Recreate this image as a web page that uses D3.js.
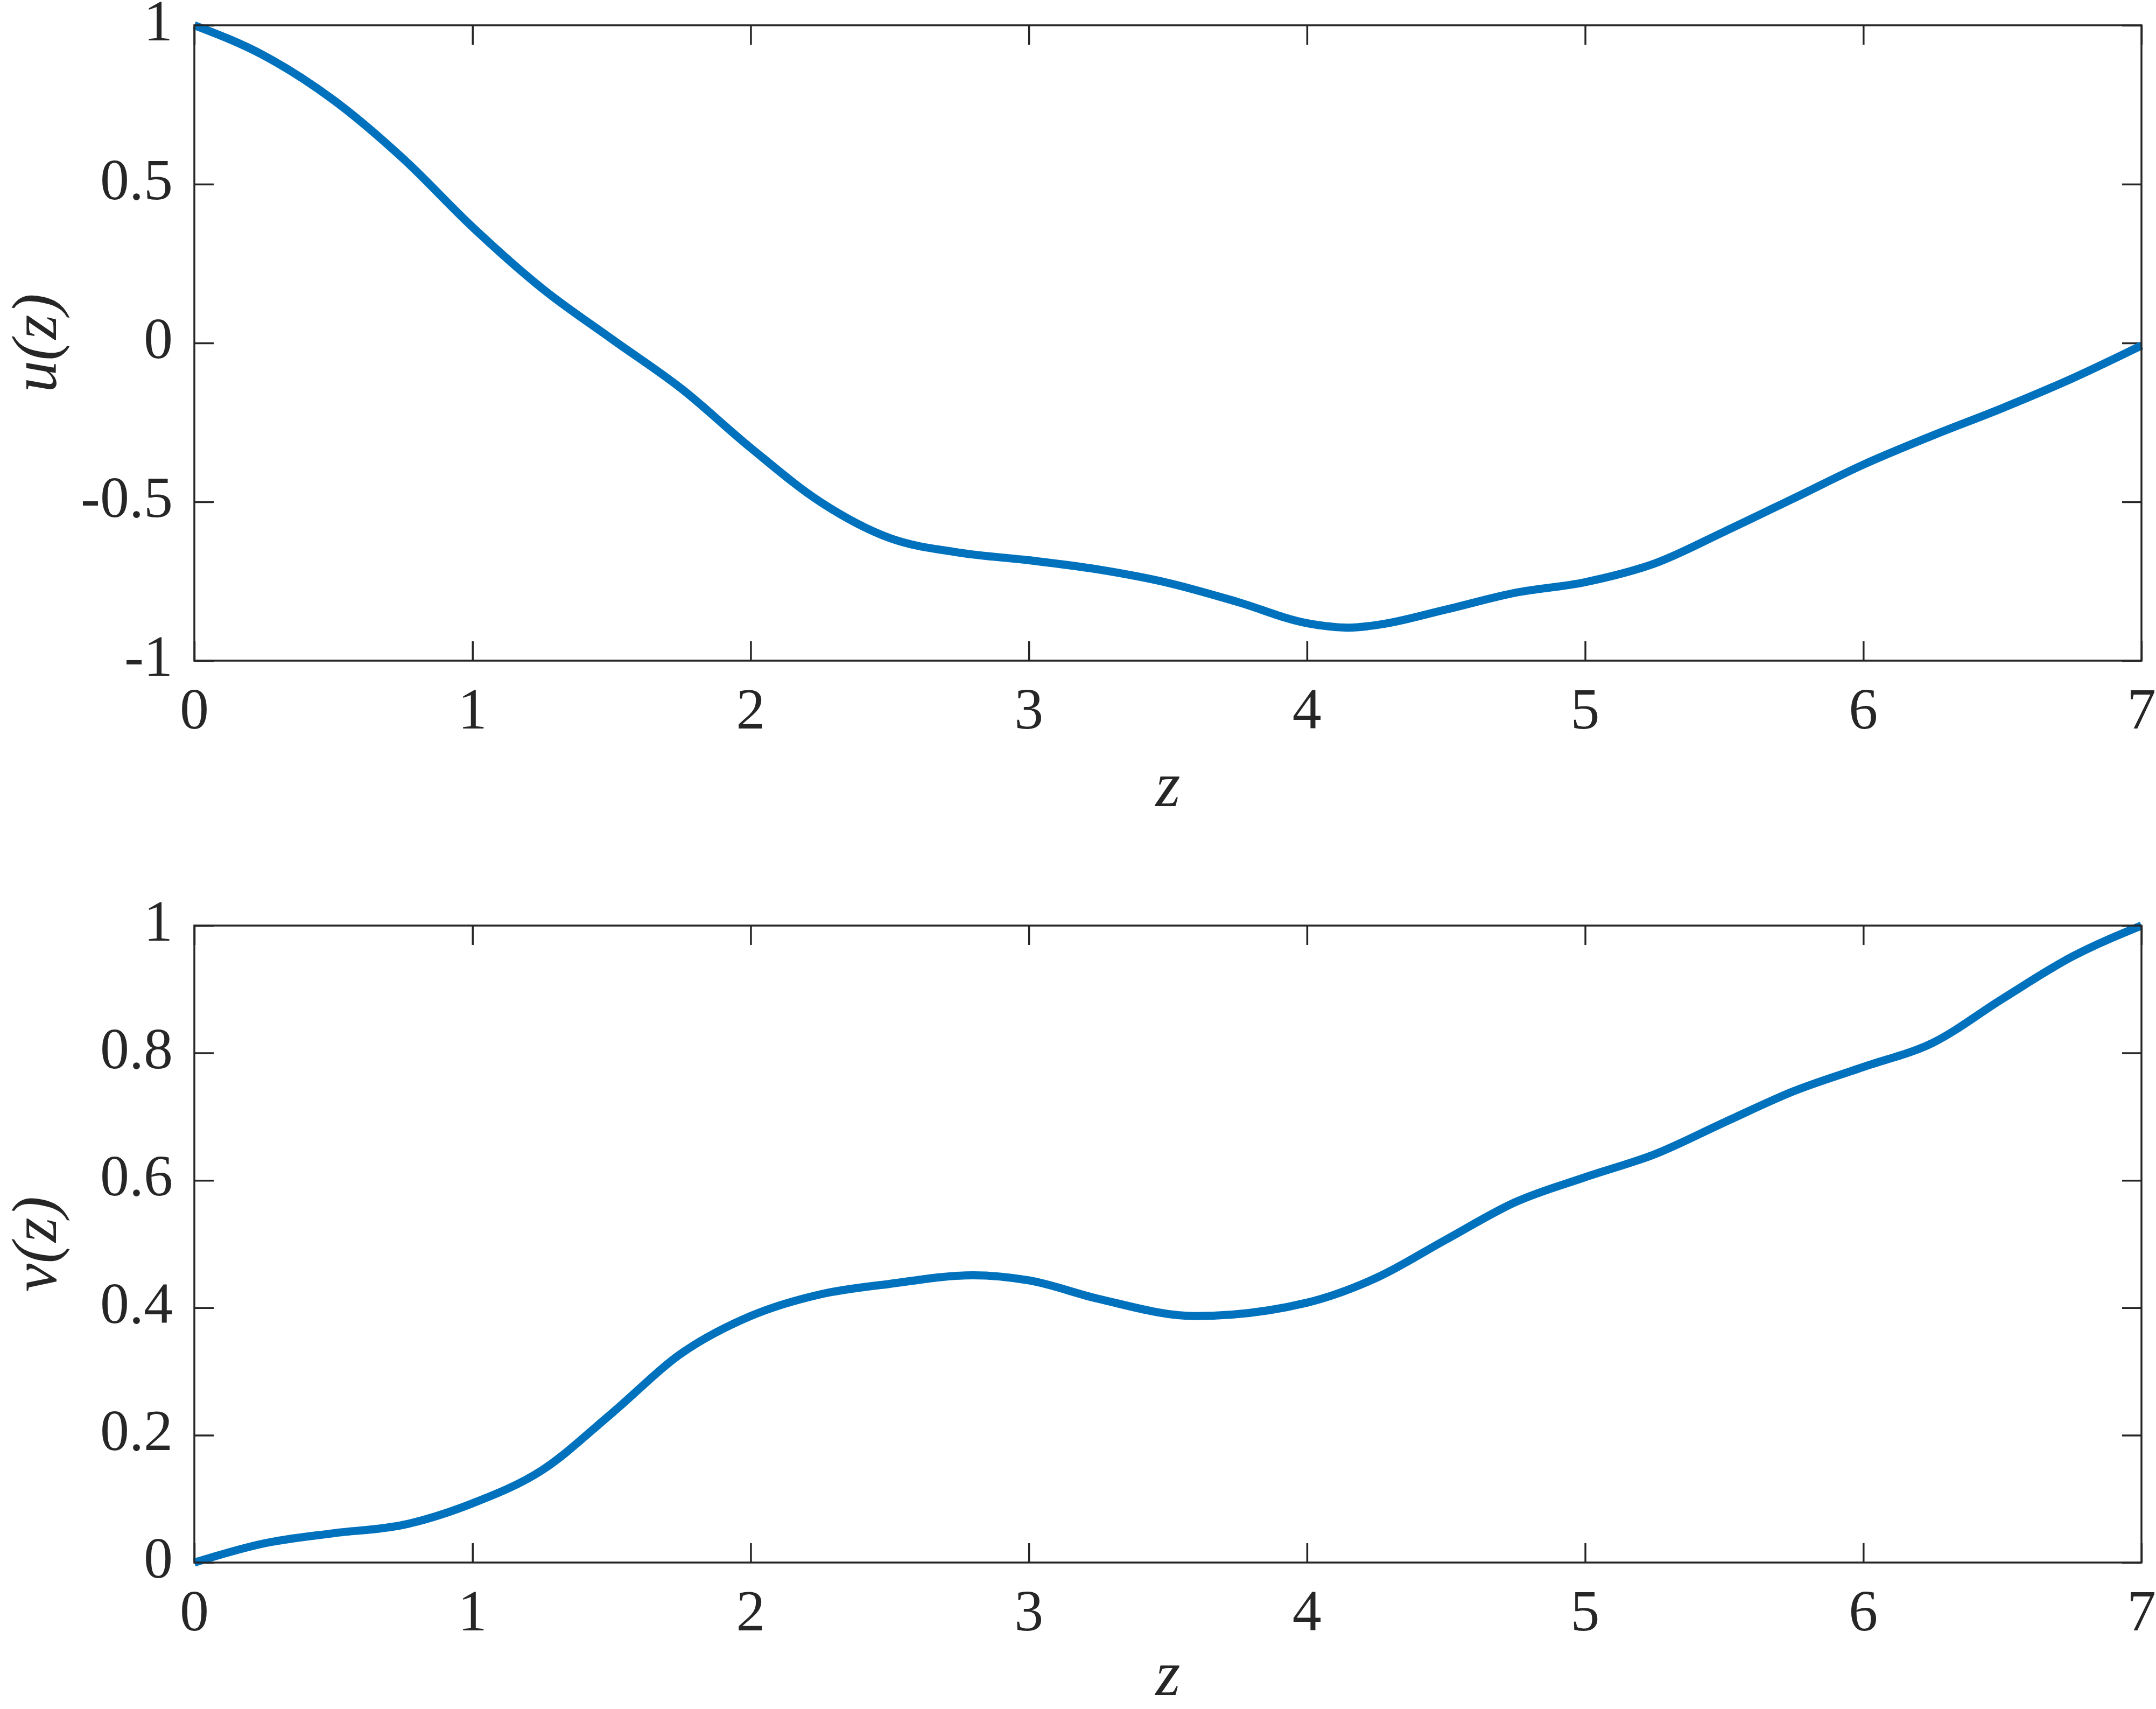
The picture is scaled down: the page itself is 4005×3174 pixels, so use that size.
<!DOCTYPE html>
<html>
<head>
<meta charset="utf-8">
<script src="https://cdn.jsdelivr.net/npm/d3@7"></script>
<style>
  html, body { margin: 0; padding: 0; background: #fff; }
  svg { display: block; }
  .tick-label { font-family: "Liberation Serif", "DejaVu Serif", serif; font-size: 108px; fill: #262626; }
  .axis-title { font-family: "Liberation Serif", "DejaVu Serif", serif; font-style: italic; font-size: 118px; fill: #262626; }
</style>
</head>
<body>
<svg id="chart" width="4005" height="3174"></svg>
<script>
// z samples and values
const zU = [0, 0.25, 0.5, 0.75, 1, 1.25, 1.5, 1.75, 2, 2.25, 2.5, 2.75, 3, 3.25, 3.5, 3.75, 4, 4.15, 4.25, 4.5, 4.75, 5, 5.25, 5.5, 5.75, 6, 6.25, 6.5, 6.75, 7];
const uVals = [1.0, 0.905, 0.765, 0.581, 0.365, 0.172, 0.013, -0.143, -0.33, -0.50, -0.614, -0.66, -0.684, -0.713, -0.755, -0.815, -0.882, -0.896, -0.888, -0.839, -0.786, -0.753, -0.694, -0.594, -0.489, -0.383, -0.291, -0.205, -0.112, -0.008];

const zV = [0, 0.25, 0.5, 0.75, 1, 1.25, 1.5, 1.75, 2, 2.25, 2.5, 2.8, 3, 3.25, 3.6, 4, 4.25, 4.5, 4.75, 5, 5.25, 5.5, 5.75, 6, 6.25, 6.5, 6.75, 7];
const vVals = [0, 0.030, 0.046, 0.059, 0.093, 0.145, 0.234, 0.328, 0.387, 0.421, 0.4375, 0.451, 0.443, 0.414, 0.387, 0.408, 0.447, 0.507, 0.566, 0.605, 0.641, 0.691, 0.740, 0.778, 0.816, 0.885, 0.951, 1.0];

const xTicks = [0, 1, 2, 3, 4, 5, 6, 7];
const uTicks = [-1, -0.5, 0, 0.5, 1];
const uTickLabels = ['-1', '-0.5', '0', '0.5', '1'];
const vTicks = [0, 0.2, 0.4, 0.6, 0.8, 1];
const vTickLabels = ['0', '0.2', '0.4', '0.6', '0.8', '1'];

const svg = d3.select('#chart');
svg.append('rect').attr('width', 4005).attr('height', 3174).attr('fill', '#fff');

const left = 361, right = 3978;
const axisColor = '#262626';
const tickLen = 36;

function drawPanel(top, bottom, zs, vals, yDomain, yTicks, yLabels, yTitle, xTitleY) {
    const x = d3.scaleLinear().domain([0, 7]).range([left, right]);
    const y = d3.scaleLinear().domain(yDomain).range([bottom, top]);
    const g = svg.append('g');

    // ticks inside the box on all four sides
    g.append('g').attr('transform', `translate(0,${bottom})`)
        .call(d3.axisBottom(x).tickValues(xTicks).tickSizeInner(-tickLen).tickSizeOuter(0).tickFormat(''))
        .call(a => a.select('.domain').remove());
    g.append('g').attr('transform', `translate(0,${top})`)
        .call(d3.axisTop(x).tickValues(xTicks).tickSizeInner(-tickLen).tickSizeOuter(0).tickFormat(''))
        .call(a => a.select('.domain').remove());
    g.append('g').attr('transform', `translate(${left},0)`)
        .call(d3.axisLeft(y).tickValues(yTicks).tickSizeInner(-tickLen).tickSizeOuter(0).tickFormat(''))
        .call(a => a.select('.domain').remove());
    g.append('g').attr('transform', `translate(${right},0)`)
        .call(d3.axisRight(y).tickValues(yTicks).tickSizeInner(-tickLen).tickSizeOuter(0).tickFormat(''))
        .call(a => a.select('.domain').remove());
    g.selectAll('.tick line').attr('stroke', axisColor).attr('stroke-width', 3.5);

    // curve
    const line = d3.line()
        .x((d, i) => x(zs[i]))
        .y(d => y(d))
        .curve(d3.curveMonotoneX);
    g.append('path')
        .datum(vals)
        .attr('d', line)
        .attr('fill', 'none')
        .attr('stroke', '#0072BD')
        .attr('stroke-width', 15)
        .attr('stroke-linejoin', 'round');

    // box
    g.append('rect')
        .attr('x', left).attr('y', top)
        .attr('width', right - left).attr('height', bottom - top)
        .attr('fill', 'none').attr('stroke', axisColor).attr('stroke-width', 3.5);

    // tick labels
    g.selectAll('.xl').data(xTicks).enter().append('text')
        .attr('class', 'tick-label')
        .attr('x', d => x(d)).attr('y', bottom + 126)
        .attr('text-anchor', 'middle')
        .text(d => d);
    g.selectAll('.yl').data(yTicks).enter().append('text')
        .attr('class', 'tick-label')
        .attr('x', left - 40).attr('y', d => y(d) + 28)
        .attr('text-anchor', 'end')
        .text((d, i) => yLabels[i]);

    // axis titles
    g.append('text').attr('class', 'axis-title')
        .attr('x', (left + right) / 2).attr('y', xTitleY)
        .attr('text-anchor', 'middle')
        .text('z');
    const cy = (top + bottom) / 2;
    g.append('text').attr('class', 'axis-title')
        .attr('transform', `translate(104,${cy}) rotate(-90)`)
        .attr('text-anchor', 'middle')
        .text(yTitle);
}

drawPanel(47, 1227, zU, uVals, [-1, 1], uTicks, uTickLabels, 'u(z)', 1497);
drawPanel(1719, 2902, zV, vVals, [0, 1], vTicks, vTickLabels, 'v(z)', 3148);
</script>
</body>
</html>
